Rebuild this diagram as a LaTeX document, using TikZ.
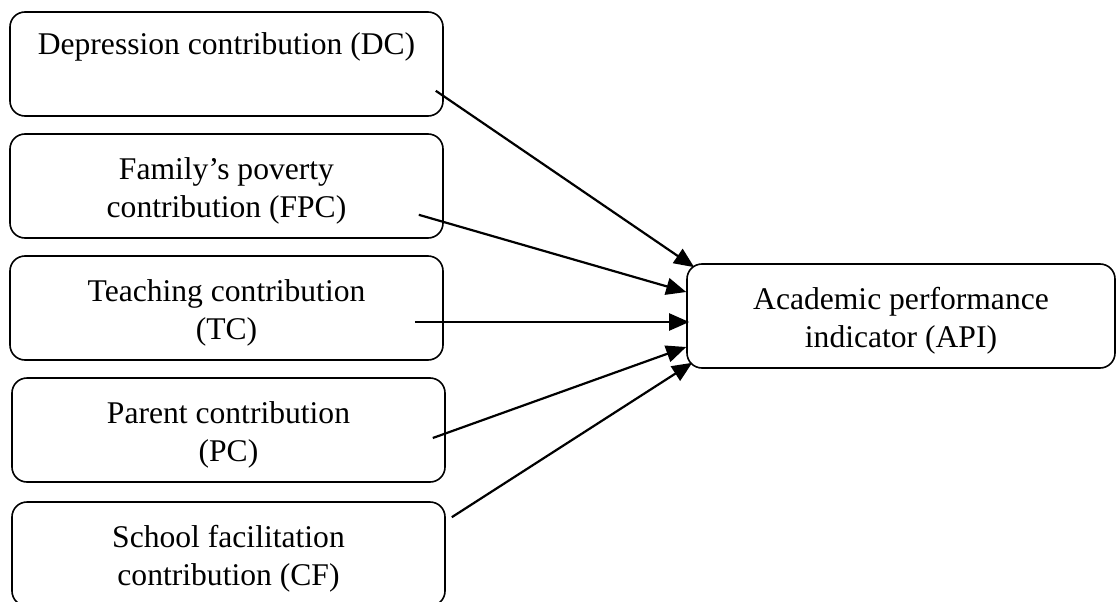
\documentclass[tikz,border=0pt]{standalone}
\usepackage{fontspec}
\setmainfont{Liberation Serif}
\usetikzlibrary{arrows.meta,calc}
\newcommand{\topstrut}{\rule{0pt}{31pt}}
\begin{document}
\begin{tikzpicture}[x=1pt,y=-1pt,
  box/.style={draw=black,line width=1.6pt,rounded corners=15pt,
    minimum width=433pt,minimum height=104pt,inner sep=0pt,align=center,
    font=\fontsize{31.6}{38}\selectfont},
  conn/.style={line width=2.2pt,-{Triangle[length=20pt,width=17pt]}}]
\useasboundingbox (0,0) rectangle (1116,602);
\node[box] (dc)  at (226.5,64)  {\topstrut Depression contribution (DC)\\\strut};
\node[box] (fpc) at (226.5,186) {\topstrut Family’s poverty\\contribution (FPC)};
\node[box] (tc)  at (226.5,308) {\topstrut Teaching contribution\\(TC)};
\node[box] (pc)  at (228.5,430) {\topstrut Parent contribution\\(PC)};
\node[box] (cf)  at (228.5,554) {\topstrut School facilitation\\contribution (CF)};
\node[box,minimum width=428pt] (api) at (901,316) {\topstrut Academic performance\\indicator (API)};
\draw[conn] ($(dc.south east)+(-8,-26)$) -- ($(api.north west)+(8,4)$);
\draw[conn] ($(fpc.south east)+(-25,-24)$) -- ($(api.west)+(0,-24)$);
\draw[conn] ($(tc.east)+(-29,14)$) -- ($(api.west)+(3,6)$);
\draw[conn] ($(pc.east)+(-13,8)$) -- ($(api.west)+(0,31)$);
\draw[conn] ($(cf.north east)+(6,16)$) -- ($(api.south west)+(6,-6)$);
\end{tikzpicture}
\end{document}
